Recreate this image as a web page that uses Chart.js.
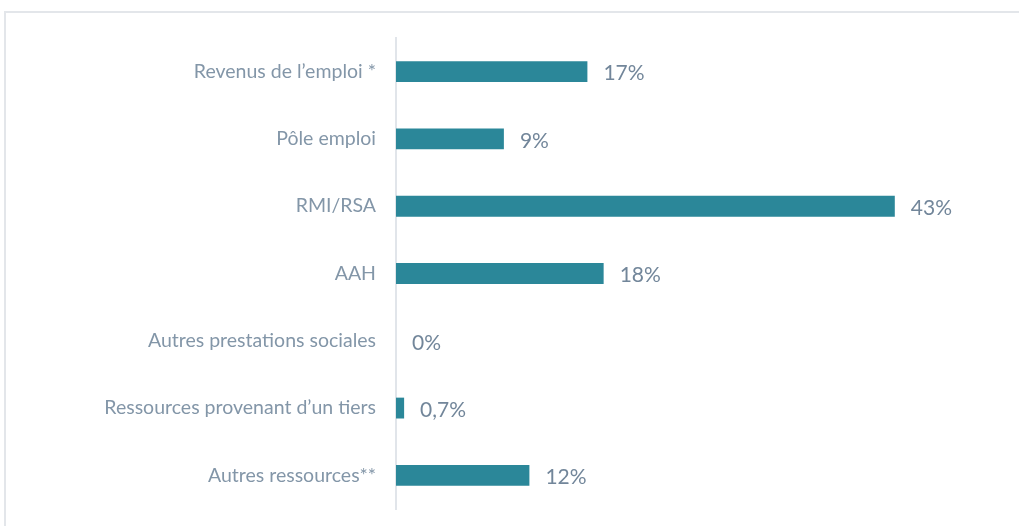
<!DOCTYPE html>
<html>
<head>
<meta charset="utf-8">
<script src="https://cdn.jsdelivr.net/npm/chart.js@4"></script>
<style>
  html, body { margin: 0; padding: 0; background: #fff; overflow: hidden; }
  #frame { position: absolute; left: 4px; top: 11px; width: 1200px; height: 700px; border-left: 2px solid #e3e6ea; border-top: 2px solid #e3e6ea; }
  #wrap { position: absolute; left: 0; top: 0; width: 1019px; height: 526px; }
  canvas { display: block; }
</style>
</head>
<body>
<div id="frame"></div>
<div id="wrap"><canvas id="c" width="1019" height="526"></canvas></div>
<script>
const categories = [
  "Revenus de l\u2019emploi *",
  "P\u00f4le emploi",
  "RMI/RSA",
  "AAH",
  "Autres prestations sociales",
  "Ressources provenant d\u2019un tiers",
  "Autres ressources**"
];
const values = [16.5, 9.3, 43, 17.9, 0, 0.7, 11.5];
const valueLabels = ["17%", "9%", "43%", "18%", "0%", "0,7%", "12%"];

const barLabels = {
  id: 'barLabels',
  afterDatasetsDraw(chart) {
    const ctx = chart.ctx;
    const meta = chart.getDatasetMeta(0);
    ctx.save();
    ctx.font = '21px Lato, "Open Sans", sans-serif';
    ctx.fillStyle = '#72869a';
    ctx.textAlign = 'left';
    ctx.textBaseline = 'middle';
    meta.data.forEach((bar, i) => {
      ctx.fillText(valueLabels[i], bar.x + 16, bar.y + 2);
    });
    ctx.restore();
  }
};

new Chart(document.getElementById('c'), {
  type: 'bar',
  data: {
    labels: categories,
    datasets: [{
      data: values,
      backgroundColor: '#2b8799',
      borderWidth: 0,
      barPercentage: 0.31,
      categoryPercentage: 1
    }]
  },
  options: {
    indexAxis: 'y',
    responsive: false,
    animation: false,
    layout: { padding: { left: 0, right: 43, top: 38, bottom: 17 } },
    plugins: { legend: { display: false }, tooltip: { enabled: false } },
    scales: {
      x: {
        min: 0, max: 50,
        display: false,
        grid: { display: false }
      },
      y: {
        grid: { display: false, drawTicks: false },
        border: { display: true, color: '#e1e5ea', width: 2 },
        ticks: {
          color: '#8396a8',
          font: { family: 'Lato, "Open Sans", sans-serif', size: 19.5 },
          padding: 20
        },
        afterFit(scale) {
          scale.width = 396;
          scale.paddingTop = 0;
          scale.paddingBottom = 0;
        }
      }
    }
  },
  plugins: [barLabels]
});
</script>
</body>
</html>
